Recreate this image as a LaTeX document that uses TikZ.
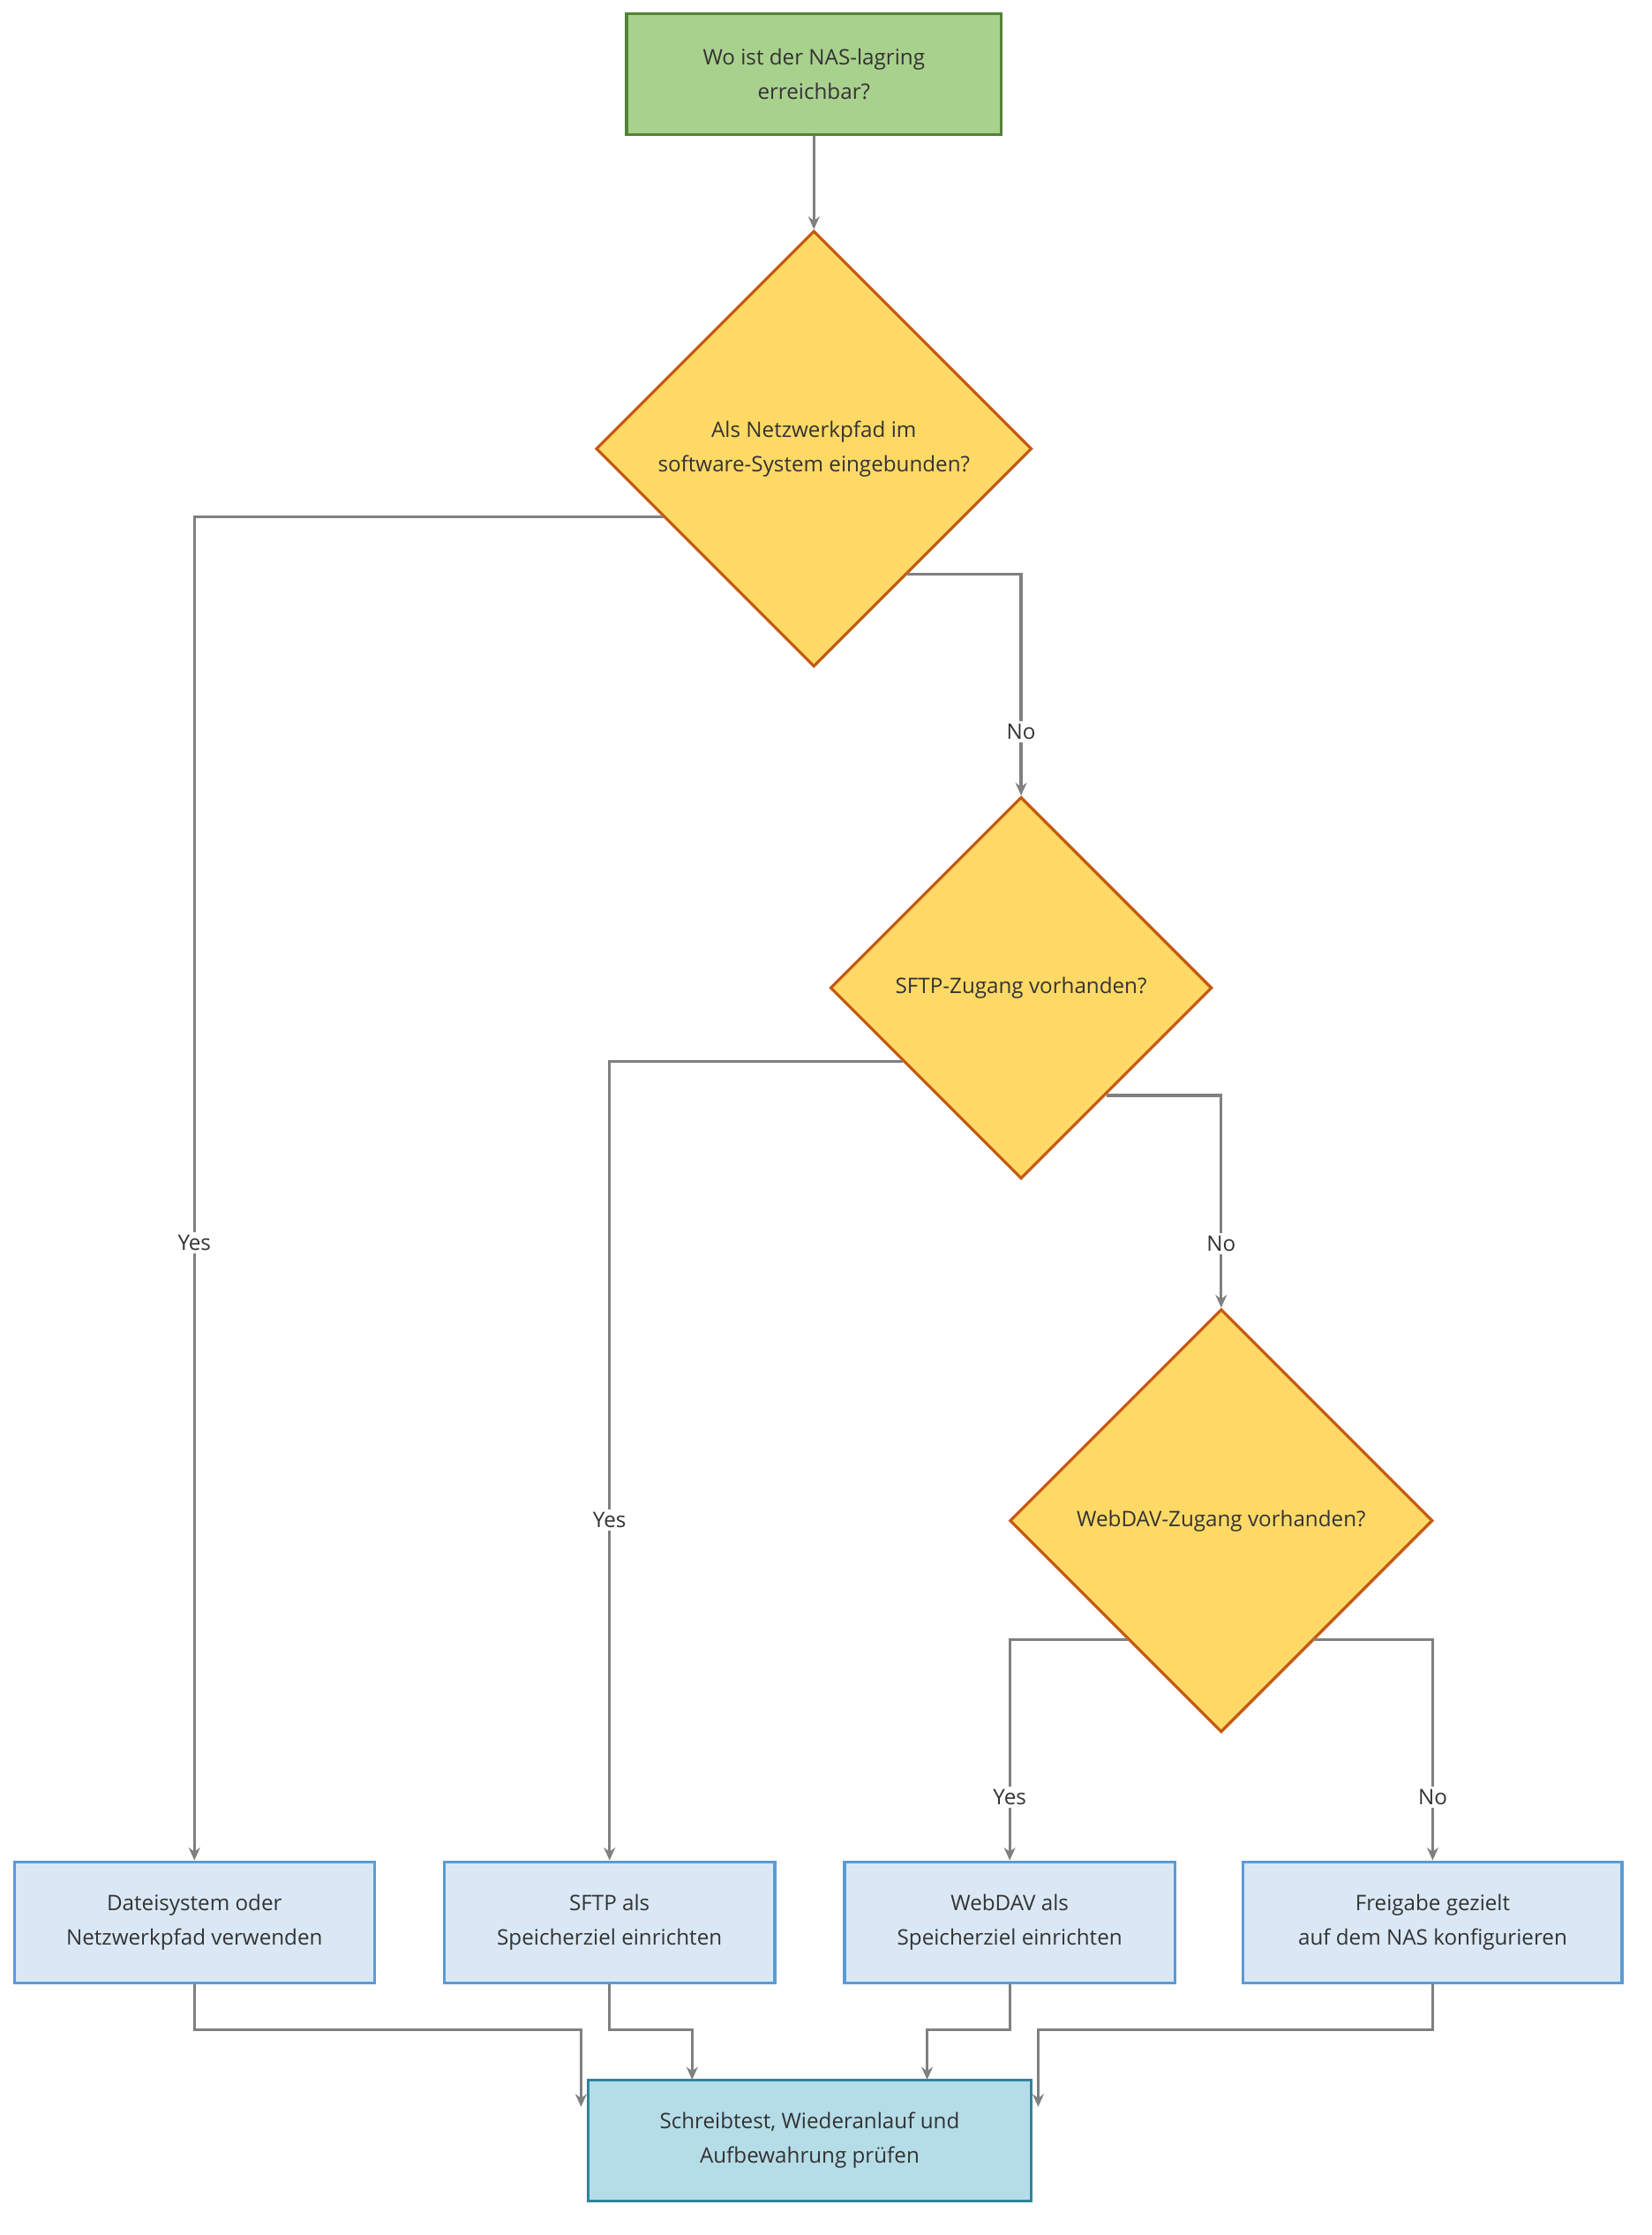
\documentclass[tikz,border=0pt]{standalone}
\usepackage{fontspec}
\setmainfont{Open Sans}
\usetikzlibrary{shapes.geometric,arrows.meta}
\definecolor{startf}{HTML}{A9D18E}\definecolor{startd}{HTML}{548235}
\definecolor{decf}{HTML}{FFD966}\definecolor{decd}{HTML}{C55A11}
\definecolor{actf}{HTML}{DAE8F5}\definecolor{actd}{HTML}{5B9BD5}
\definecolor{endf}{HTML}{B5DDE8}\definecolor{endd}{HTML}{31849B}
\definecolor{ln}{HTML}{808080}\definecolor{tx}{HTML}{333333}
\begin{document}
\begin{tikzpicture}[x=1pt,y=-1pt,
 every node/.style={font=\fontsize{15}{24}\selectfont,text=tx,align=center},
 box/.style={draw,line width=2pt,minimum height=85pt,inner sep=0pt},
 start/.style={box,fill=startf,draw=startd,minimum width=263pt},
 act/.style={box,fill=actf,draw=actd},
 fin/.style={box,fill=endf,draw=endd,minimum width=311pt},
 dec/.style={diamond,draw=decd,fill=decf,line width=2pt,inner sep=0pt},
 edge/.style={draw=ln,line width=2pt,-{Stealth[length=9pt,width=8pt]}},
 lbl/.style={fill=white,inner sep=2pt}]
\useasboundingbox (0,0) rectangle (1160,1569);
\node[start] (s) at (571.5,52) {Wo ist der NAS-lagring\\erreichbar?};
\node[dec,minimum width=306pt,minimum height=306pt] (d1) at (571.5,315) {Als Netzwerkpfad im\\software-System eingebunden?};
\node[dec,minimum width=268pt,minimum height=268pt] (d2) at (717,693.5) {SFTP-Zugang vorhanden?};
\node[dec,minimum width=297pt,minimum height=297pt] (d3) at (857.5,1067.5) {WebDAV-Zugang vorhanden?};
\node[act,minimum width=253pt] (b1) at (136.5,1349.5) {Dateisystem oder\\Netzwerkpfad verwenden};
\node[act,minimum width=232pt] (b2) at (428,1349.5) {SFTP als\\Speicherziel einrichten};
\node[act,minimum width=232pt] (b3) at (709,1349.5) {WebDAV als\\Speicherziel einrichten};
\node[act,minimum width=266pt] (b4) at (1006,1349.5) {Freigabe gezielt\\auf dem NAS konfigurieren};
\node[fin] (e) at (568.5,1502.5) {Schreibtest, Wiederanlauf und\\Aufbewahrung prüfen};
\coordinate (e1) at (408,1479);\coordinate (e4) at (729,1479);
\path[edge] (s) -- (d1);
\path[edge] (466,363) -| node[lbl,pos=0.77]{Yes} (b1);
\path[edge] (637,403) -| node[lbl,pos=0.856]{No} (d2);
\path[edge] (634,745) -| node[lbl,pos=0.787]{Yes} (b2);
\path[edge] (777,769) -| node[lbl,pos=0.85]{No} (d3);
\path[edge] (792,1151) -| node[lbl,pos=0.856]{Yes} (b3);
\path[edge] (922,1151) -| node[lbl,pos=0.856]{No} (b4);
\path[edge] (b1.south) |- (272,1425) -| (e1);
\path[edge] (b2.south) |- (486,1425) -- (486,1460);
\path[edge] (b3.south) |- (651,1425) -- (651,1460);
\path[edge] (b4.south) |- (868,1425) -| (e4);
\end{tikzpicture}
\end{document}
